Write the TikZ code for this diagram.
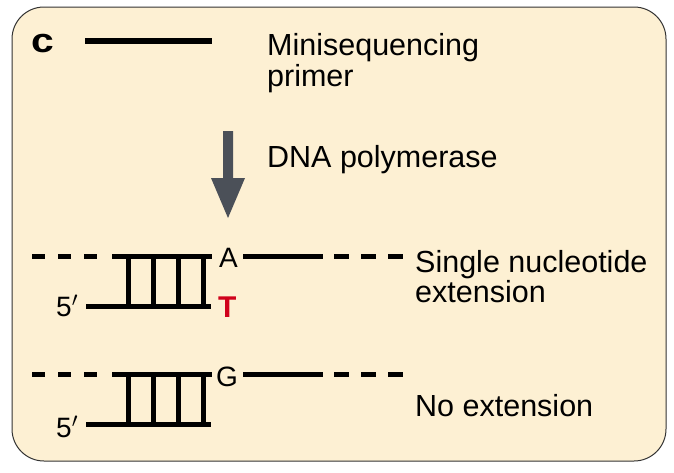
\documentclass[tikz,border=0pt]{standalone}
\usepackage{fontspec}
\setmainfont{Liberation Sans}
\definecolor{cream}{HTML}{FDF0D3}
\definecolor{arrowgray}{HTML}{4B5058}
\definecolor{tred}{HTML}{D0021B}
\begin{document}
\begin{tikzpicture}[x=1pt,y=-1pt,
  lbl/.style={anchor=base west,inner sep=0pt,font=\fontsize{30.5}{34}\selectfont},
  base/.style={anchor=base west,inner sep=0pt,font=\fontsize{28}{31}\selectfont},
  strand/.style={line width=5pt,black},
  dashstrand/.style={line width=5pt,black,dash pattern=on 13pt off 13pt},
  dashstrandr/.style={line width=5pt,black,dash pattern=on 15pt off 12pt}]
\useasboundingbox (0,0) rectangle (674,472);
\draw[fill=cream,draw=black!80,line width=1pt,rounded corners=32pt] (12,7) rectangle (666,461);
% panel letter
\node[anchor=base west,inner sep=0pt,font=\fontsize{34}{36}\selectfont\bfseries] (c) at (31,52) {\scalebox{1.2}[1]{c}};
% primer
\coordinate (p1) at (85,41); \coordinate (p2) at (212,41);
\draw[line width=5.5pt] (p1) -- (p2);
\node[lbl] (t1) at (267,55) {Minisequencing};
\node[lbl] (t2) at (267,86) {primer};
% arrow
\fill[arrowgray] (223,131) -- (233,131) -- (233,178) -- (245,178) -- (228,218) -- (211,178) -- (223,178) -- cycle;
\node[lbl] (t3) at (267,167) {DNA polymerase};
% row 1
\draw[dashstrand] (32,256) -- (97,256);
\draw[strand] (112,256) -- (212,256);
\draw[strand] (243,256) -- (323,256);
\draw[dashstrandr] (334,256) -- (403,256);
\draw[strand] (86,306) -- (211,306);
\foreach \x in {128,153,178,203} \draw[line width=5pt] (\x,256) -- (\x,306);
\node[base] (A) at (219,267) {A};
\node[base,text=tred,font=\fontsize{30}{31}\selectfont\bfseries] (T) at (218,317) {T};
\node[base] (f1) at (56,316) {5$'$};
\node[lbl] (t4) at (415,272) {Single nucleotide};
\node[lbl] (t5) at (415,302) {extension};
% row 2
\draw[dashstrand] (32,374) -- (97,374);
\draw[strand] (112,374) -- (212,374);
\draw[strand] (243,374) -- (323,374);
\draw[dashstrandr] (334,374) -- (403,374);
\draw[strand] (86,424) -- (211,424);
\foreach \x in {128,153,178,203} \draw[line width=5pt] (\x,374) -- (\x,424);
\node[base] (G) at (216,386) {G};
\node[base] (f2) at (56,437) {5$'$};
\node[lbl] (t6) at (415,416) {No extension};
\end{tikzpicture}
\end{document}
